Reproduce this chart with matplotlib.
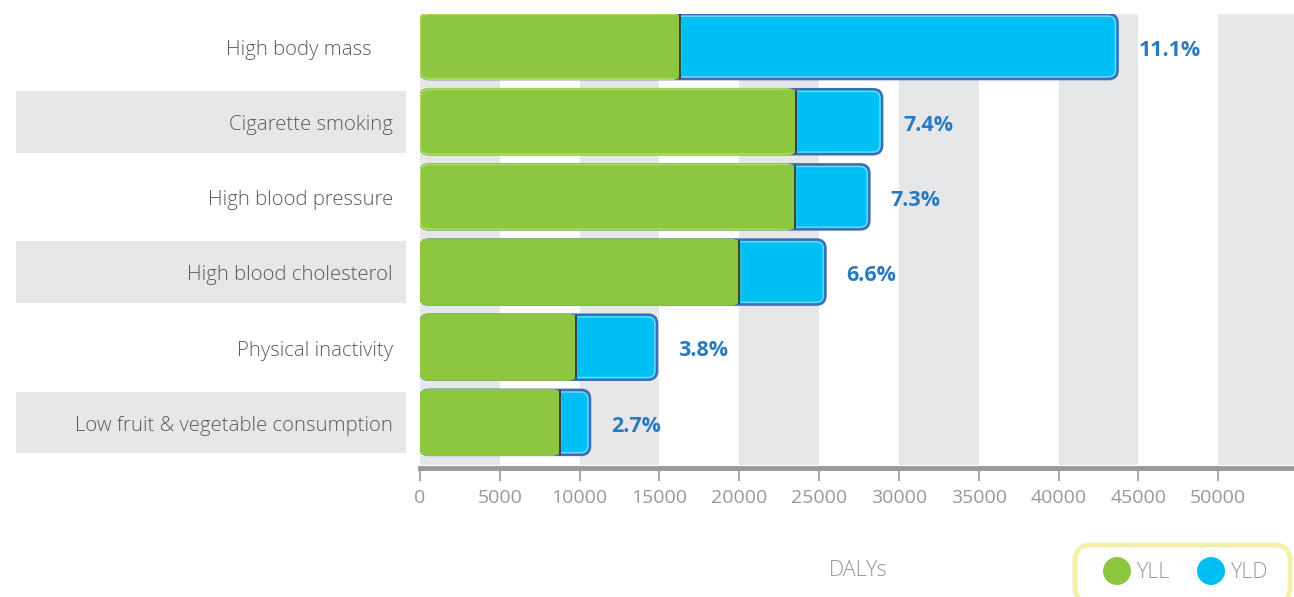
import matplotlib
matplotlib.use("Agg")
import matplotlib.pyplot as plt
from matplotlib.patches import FancyBboxPatch, Rectangle, Circle
from matplotlib.transforms import blended_transform_factory

categories = ["High body mass", "Cigarette smoking", "High blood pressure",
              "High blood cholesterol", "Physical inactivity",
              "Low fruit & vegetable consumption"]
yll = [16300, 23550, 23500, 20000, 9800, 8800]
total = [43700, 28950, 28150, 25400, 14850, 10650]
pct_labels = ["11.1%", "7.4%", "7.3%", "6.6%", "3.8%", "2.7%"]
xticks = [0, 5000, 10000, 15000, 20000, 25000, 30000, 35000, 40000, 45000, 50000]
series_names = ["YLL", "YLD"]
xlabel = "DALYs"

GREEN = "#8dc63f"
BLUE = "#00bff3"
BLUE_EDGE = "#3d6db5"
TXT_BLUE = "#2a7abf"
BAND = "#e6e7e9"

plt.rcParams['font.family'] = ['Open Sans', 'DejaVu Sans']

W, H = 1294, 597
fig = plt.figure(figsize=(W / 100, H / 100), dpi=100)
ax_l, ax_r, ax_t, ax_b = 420, 1294, 14, 465
ax = fig.add_axes([ax_l / W, 1 - ax_b / H, (ax_r - ax_l) / W, (ax_b - ax_t) / H])
xmax = 54750
ax.set_xlim(0, xmax)
ax.set_ylim(5.567, -0.433)

# alternating background bands
for i, t in enumerate(xticks):
    if i % 2 == 0:
        ax.axvspan(t, t + 5000, color=BAND, lw=0, zorder=0)

xpp = xmax / (ax_r - ax_l)
ypp = 6.0 / (ax_b - ax_t)
asp = ypp / xpp
r = 9 * xpp
h = 0.865

for i, (cat, g, tot, lab) in enumerate(zip(categories, yll, total, pct_labels)):
    y0 = i - h / 2
    blue = FancyBboxPatch((0, y0), tot, h, boxstyle=f"round,pad=0,rounding_size={r}",
                          mutation_aspect=asp, fc=BLUE, ec=BLUE_EDGE, lw=1.8, zorder=2)
    ax.add_patch(blue)
    inner = FancyBboxPatch((0, y0 + 2.2 * ypp), tot - 2.2 * xpp, h - 4.4 * ypp,
                           boxstyle=f"round,pad=0,rounding_size={r * 0.8}",
                           mutation_aspect=asp, fc="none", ec="#6fd8fb", lw=1.0, zorder=2)
    ax.add_patch(inner)
    ec_g = "#a9d95a" if i < 3 else GREEN
    green = FancyBboxPatch((0, y0), g, h, boxstyle=f"round,pad=0,rounding_size={r}",
                           mutation_aspect=asp, fc=GREEN, ec=ec_g, lw=1.6, zorder=3)
    ax.add_patch(green)
    ax.add_patch(Rectangle((g - 2 * r, y0 + 0.01), 2 * r, h - 0.02, fc=GREEN, lw=0, zorder=3))
    ax.plot([g, g], [y0 + 0.005, y0 + h - 0.005], color="#2b3a4a", lw=1.3, zorder=4,
            solid_capstyle="butt")
    ax.text(tot + 21 * xpp, i + 0.05, lab, color=TXT_BLUE, fontsize=15.5, fontweight="bold",
            va="center", ha="left", zorder=5)

# category labels with alternating bands in the left margin
tr = blended_transform_factory(fig.transFigure, ax.transData)
for i, cat in enumerate(categories):
    if i % 2 == 1:
        fig.patches.append(Rectangle((16 / W, i - 0.41), (406 - 16) / W, 0.82,
                                     transform=tr, fc=BAND, lw=0, zorder=0))
    xr = 372 if i == 0 else 393
    fig.text(xr / W, i + 0.045, cat, transform=tr, ha="right", va="center",
             fontsize=14.7, color="#5a5a5a", fontweight="light")

ax.set_yticks([])
ax.set_xticks(xticks)
ax.set_xticklabels([str(t) for t in xticks], fontweight="light")
ax.tick_params(axis="x", direction="out", length=9, width=1.5, color="#aaaaaa",
               labelsize=14, labelcolor="#999999", pad=6)
for s in ["top", "right", "left"]:
    ax.spines[s].set_visible(False)
ax.spines["bottom"].set_color("#999999")
ax.spines["bottom"].set_linewidth(3.5)
ax.spines["bottom"].set_position(("outward", 2))

fig.text(858 / W, 1 - 571 / H, xlabel, ha="center", va="center", fontsize=15.5,
         color="#999999", fontweight="light")

# legend (pixel coordinates, origin bottom-left)
legend_box = FancyBboxPatch((1075, -6), 1290 - 1075, (H - 545) + 6,
                            boxstyle="round,pad=0,rounding_size=16",
                            transform=None, fc="white", ec="#f2f0aa", lw=3.5)
fig.patches.append(legend_box)
for cx, col, name in [(1117, GREEN, series_names[0]), (1211, BLUE, series_names[1])]:
    circ = Circle((cx, H - 571), 14, transform=None, fc=col, ec="none")
    fig.patches.append(circ)
    fig.text((cx + 19) / W, 1 - 572 / H, name, ha="left", va="center", fontsize=15.5,
             color="#999999", fontweight="light")

fig.savefig("out.png", dpi=100)
